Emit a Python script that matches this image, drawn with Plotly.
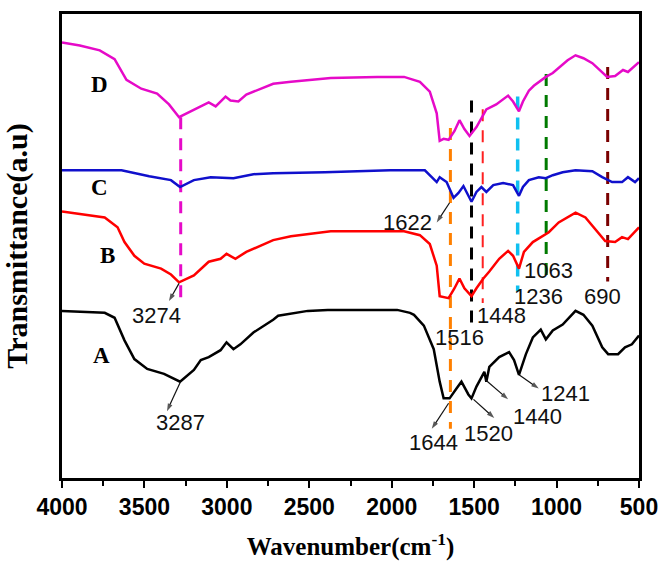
import plotly.graph_objects as go

# ---- spectra (wavenumber cm-1, transmittance a.u.) ----
wn_A = [4000, 3741, 3681, 3621, 3561, 3483, 3381, 3284, 3200, 3158, 3110, 3038, 3002, 2960, 2918, 2839, 2719, 2689, 2509, 2388, 1967, 1889, 1865, 1805, 1745, 1709, 1685, 1649, 1607, 1577, 1535, 1516, 1486, 1456, 1438, 1426, 1408, 1348, 1288, 1258, 1228, 1186, 1144, 1096, 1065, 1023, 963, 885, 837, 783, 723, 687, 627, 585, 543, 500]
tr_A = [170, 168, 163, 140, 121, 111, 106, 98, 110, 120, 123, 130, 138, 131, 136, 148, 161, 165, 170, 171, 171, 168, 166, 155, 131, 98, 81, 81, 91, 98, 85, 81, 93, 102, 108, 98, 113, 123, 128, 120, 105, 126, 143, 151, 141, 150, 156, 170, 166, 155, 133, 126, 126, 133, 136, 145]

wn_B = [4000, 3741, 3663, 3621, 3561, 3501, 3399, 3339, 3290, 3200, 3110, 3038, 3002, 2948, 2882, 2797, 2719, 2611, 2370, 1925, 1829, 1769, 1727, 1709, 1655, 1619, 1589, 1559, 1516, 1486, 1444, 1408, 1348, 1294, 1264, 1228, 1198, 1144, 1083, 1047, 987, 927, 885, 825, 765, 705, 645, 603, 567, 500]
tr_B = [271, 265, 255, 240, 226, 218, 213, 207, 199, 206, 220, 223, 228, 223, 230, 236, 242, 246, 251, 251, 247, 238, 216, 185, 183, 193, 203, 193, 185, 193, 203, 210, 223, 231, 226, 213, 230, 240, 246, 250, 260, 266, 270, 265, 253, 241, 240, 245, 243, 255]

wn_C = [4000, 3639, 3471, 3339, 3284, 3200, 3098, 2960, 2839, 2719, 2406, 2010, 1799, 1757, 1727, 1709, 1667, 1625, 1595, 1565, 1516, 1486, 1456, 1426, 1384, 1324, 1264, 1228, 1204, 1168, 1108, 1065, 1023, 963, 885, 783, 723, 663, 603, 567, 524, 500]
tr_C = [313, 313, 307, 303, 296, 303, 306, 305, 309, 310, 311, 313, 313, 306, 301, 306, 301, 285, 290, 297, 281, 291, 296, 291, 298, 300, 298, 287, 296, 303, 306, 305, 308, 311, 313, 312, 306, 301, 301, 306, 301, 305]

wn_D = [4000, 3892, 3771, 3681, 3609, 3519, 3423, 3351, 3290, 3182, 3110, 3068, 3008, 2978, 2930, 2882, 2797, 2719, 2611, 2370, 2088, 1925, 1829, 1769, 1727, 1709, 1685, 1655, 1619, 1589, 1559, 1528, 1486, 1444, 1426, 1366, 1294, 1264, 1228, 1204, 1168, 1138, 1108, 1065, 1023, 975, 933, 885, 837, 783, 735, 693, 645, 597, 567, 500]
tr_D = [443, 440, 435, 426, 405, 396, 391, 380, 367, 376, 382, 378, 388, 384, 383, 390, 396, 401, 403, 407, 408, 408, 403, 393, 371, 343, 345, 344, 353, 364, 355, 348, 357, 370, 375, 380, 389, 383, 373, 383, 394, 399, 403, 408, 412, 419, 425, 430, 427, 422, 415, 408, 409, 415, 413, 423]

names = ["A", "B", "C", "D"]
colors = ["#000000", "#FF0000", "#1010CC", "#E60AC8"]
label_x = [3759, 3723, 3771, 3771]
label_y = [125, 226, 296, 400]

# ---- marker (dashed) lines ----
mark_wn = [3280, 1644, 1516, 1448, 1236, 1063, 690]
mark_top = [367, 356, 384, 375, 388, 411, 418]
mark_bot = [183, 50, 158, 178, 190, 203, 200]
mark_col = ["#E60AC8", "#FF8000", "#000000", "#FF2020", "#10C0F0", "#007A00", "#7A0000"]
mark_w = [3, 3, 3, 2, 3.5, 3, 3]

# ---- peak labels ----
pk_text = ["3274", "3287", "1644", "1520", "1440", "1241", "1622", "1516", "1448", "1236", "1063", "690"]
pk_x = [3429, 3284, 1745, 1414, 1114, 945, 1907, 1589, 1336, 1108, 1047, 723]
pk_y = [165, 56, 36, 45, 63, 86, 260, 143, 165, 185, 211, 185]
# arrows: tail on the curve, head near the label
ar_tail_x = [3290, 3284, 1655, 1504, 1432, 1228, 1649]
ar_tail_y = [198, 97, 76, 80, 100, 105, 280]
ar_head_x = [3351, 3363, 1757, 1378, 1294, 1108, 1727]
ar_head_y = [180, 68, 50, 61, 80, 91, 260]

fig = go.Figure()

for wn, top, bot, c, w in zip(mark_wn, mark_top, mark_bot, mark_col, mark_w):
    fig.add_trace(go.Scatter(x=[wn, wn], y=[top, bot], mode="lines",
                             line=dict(color=c, width=w, dash="12px,9px"),
                             showlegend=False, hoverinfo="skip"))

for wn, tr, c in zip([wn_A, wn_B, wn_C, wn_D], [tr_A, tr_B, tr_C, tr_D], colors):
    fig.add_trace(go.Scatter(x=wn, y=tr, mode="lines",
                             line=dict(color=c, width=2.5),
                             showlegend=False))

for tx, ty, hx, hy in zip(ar_tail_x, ar_tail_y, ar_head_x, ar_head_y):
    fig.add_trace(go.Scatter(x=[tx, hx], y=[ty, hy], mode="lines+markers",
                             line=dict(color="#111111", width=1.2),
                             marker=dict(symbol=["circle", "arrow"], size=[0, 8],
                                         angleref="previous", color="#111111",
                                         line=dict(width=0)),
                             showlegend=False, hoverinfo="skip"))

ann = []
for n, lx, ly in zip(names, label_x, label_y):
    ann.append(dict(x=lx, y=ly, text="<b>%s</b>" % n, showarrow=False,
                    font=dict(family="Liberation Serif", size=23, color="black")))
for t, x, y in zip(pk_text, pk_x, pk_y):
    ann.append(dict(x=x, y=y, text=t, showarrow=False,
                    font=dict(family="Liberation Sans", size=22, color="#111111")))

fig.update_layout(
    width=669, height=568,
    margin=dict(l=62, r=25, t=11, b=85),
    plot_bgcolor="white", paper_bgcolor="white",
    annotations=ann,
    xaxis=dict(range=[4000, 500], tickmode="linear", tick0=500, dtick=500,
               ticks="outside", ticklen=7, tickwidth=2, tickcolor="black",
               minor=dict(ticks="outside", ticklen=5, tickwidth=2, dtick=250, tickcolor="black"),
               showline=True, linewidth=2.5, linecolor="black", mirror=True,
               showgrid=False, zeroline=False,
               tickfont=dict(family="Liberation Sans", size=23, color="black", weight="bold"),
               title=dict(text="<b>Wavenumber(cm<sup>-1</sup>)</b>", standoff=19,
                          font=dict(family="Liberation Serif", size=25, color="black"))),
    yaxis=dict(range=[0, 472], showticklabels=False, ticks="",
               showline=True, linewidth=2.5, linecolor="black", mirror=True,
               showgrid=False, zeroline=False,
               title=dict(text="<b>Transmittance(a.u)</b>", standoff=24,
                          font=dict(family="Liberation Serif", size=30, color="black"))),
)

fig.write_html("out.html")
